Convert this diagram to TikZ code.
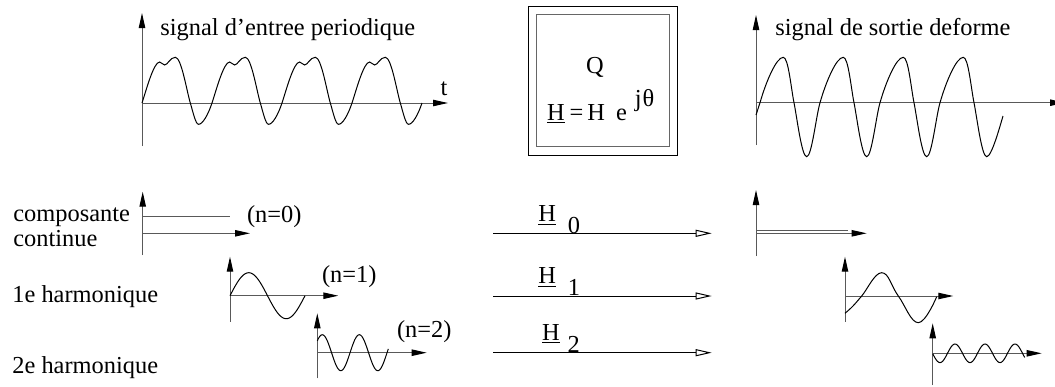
\documentclass[tikz,border=0pt]{standalone}
\usepackage{fontspec}
\setmainfont{Liberation Serif}
\usetikzlibrary{arrows.meta, positioning, calc}

\begin{document}
\begin{tikzpicture}[x=0.5pt, y=-0.5pt, font=\fontsize{12.2}{14}\selectfont]
  % Styles
  \tikzstyle{axis} = [draw, black!65, line width=0.5pt, -{Triangle[length=7.5pt, width=3.2pt, black]}]
  \tikzstyle{signal} = [draw, line width=0.5pt]
  \tikzstyle{transfer} = [draw, line width=0.5pt, -{Triangle[open, length=8pt, width=3.5pt]}]
  \tikzstyle{txt} = [inner sep=0pt, anchor=base west]

  \useasboundingbox (0,0) rectangle (1055,386);

  % Input signal
  \coordinate (in0) at (142,103);
  \draw[axis] ($(in0)+(0,43)$) -- ($(in0)+(0,-90)$);
  \draw[axis] (in0) -- ($(in0)+(306,0)$);
  \node[txt] (titreE) at (160,35) {signal d'entree periodique};
  \node[inner sep=0pt, anchor=base] (t) at (444,95) {t};
  \draw[signal] (in0) \foreach \k in {1,...,4} {
      .. controls +(4,-12) and +(-6,0) .. ++(17.6,-41)
      .. controls +(2,0) and +(-2,0) .. ++(5,3)
      .. controls +(3,0) and +(-5,0) .. ++(10.7,-7.7)
      .. controls +(6,0) and +(-4,-14) .. ++(15,45.7)
      .. controls +(3,10) and +(-3,0) .. ++(8.3,21.3)
      .. controls +(4,0) and +(-4,12) .. ++(13.4,-21.3)
    };

  % Transfer block
  \node[draw, line width=0.5pt, minimum width=74.7pt, minimum height=74.5pt] (bloc) at (603,80.5) {};
  \node[draw=black!60, line width=0.5pt, minimum width=66.3pt, minimum height=66.2pt] (blocint) at (bloc.center) {};
  \node[inner sep=0pt, anchor=base] (Q) at (595,73.3) {Q};
  \node[txt] (H) at (546.7,120) {\underline{H}\kern2.5pt=\kern2pt H\kern5.5pt e\kern4pt\raisebox{6.7pt}{j\kern0.5ptθ}};

  % Output signal
  \coordinate (ax1) at (756,102.7);
  \coordinate (out0) at (760,102.7);
  \draw[axis] ($(ax1)+(0,42.3)$) -- ($(ax1)+(0,-87.7)$);
  \draw[axis] (ax1) -- ($(ax1)+(309,0)$);
  \node[txt] (titreS) at (775,35) {signal de sortie deforme};
  \draw[signal] ($(out0)+(-4,12.3)$) -- (out0) \foreach \k in {1,...,3} {
      .. controls +(6,-21) and +(-7,0) .. ++(23.3,-45.4)
      .. controls +(5,0) and +(-3,-15) .. ++(10.7,45.4)
      .. controls +(3,15) and +(-5,0) .. ++(12.7,54)
      .. controls +(5,0) and +(-4,14) .. ++(13.3,-54)
    }
      .. controls +(6,-21) and +(-7,0) .. ++(23.3,-45.4)
      .. controls +(5,0) and +(-3,-15) .. ++(10.7,45.4)
      .. controls +(3,15) and +(-5,0) .. ++(12.7,54)
      .. controls +(5,0) and +(-3,10) .. ++(16.3,-40.7);

  % Harmonics at the input
  \node[txt] (comp) at (13,221.7) {composante};
  \node[txt] (cont) at (13,246.7) {continue};
  \coordinate (e0) at (142.7,233.3);
  \draw[axis] ($(e0)+(0,21.7)$) -- ($(e0)+(0,-41.6)$);
  \draw[axis] (e0) -- ($(e0)+(107.3,0)$);
  \draw[axis, -] ($(e0)+(0,-16.6)$) -- ($(e0)+(87.3,-16.6)$);
  \node[txt] (n0) at (246.7,222.3) {(n=0)};

  \node[txt] (harm1) at (12,302) {1e harmonique};
  \coordinate (e1) at (230,295.7);
  \draw[axis] ($(e1)+(0,26)$) -- ($(e1)+(0,-39)$);
  \draw[axis] (e1) -- ($(e1)+(108.3,0)$);
  \draw[signal, shift={(e1)}] plot[domain=0:75, samples=60] (\x, {-23*sin(4.8*\x)});
  \node[txt] (n1) at (321.7,282.5) {(n=1)};

  \node[txt] (harm2) at (12,373) {2e harmonique};
  \coordinate (e2) at (317.3,352.7);
  \draw[axis] ($(e2)+(0,25.6)$) -- ($(e2)+(0,-39.4)$);
  \draw[axis] (e2) -- ($(e2)+(109.4,0)$);
  \draw[signal, shift={(e2)}] plot[domain=0:71, samples=60] (\x, {-18*cos(9.73*(\x-5))});
  \node[txt] (n2) at (396.7,337.5) {(n=2)};

  % Transfer of each harmonic
  \foreach \i/\y in {0/233.3, 1/296, 2/352.7} {
    \coordinate (a\i) at (493.3,\y);
    \coordinate (b\i) at (711.7,\y);
    \draw[transfer] (a\i) -- (b\i);
  }
  \node[txt] (H0) at (538,221.7) {\underline{H}\kern5.9pt\raisebox{-5.8pt}{0}};
  \node[txt] (H1) at (538,283.3) {\underline{H}\kern5.9pt\raisebox{-6.3pt}{1}};
  \node[txt] (H2) at (541.7,340) {\underline{H}\kern4pt\raisebox{-6.3pt}{2}};

  % Harmonics at the output
  \coordinate (s0) at (756,233.3);
  \draw[axis] ($(s0)+(0,22.7)$) -- ($(s0)+(0,-43.3)$);
  \draw[axis] (s0) -- ($(s0)+(110.7,0)$);
  \draw[axis, -] ($(s0)+(0,-3.3)$) -- ($(s0)+(92.3,-3.3)$);

  \coordinate (s1) at (845,296);
  \draw[axis] ($(s1)+(0,25.7)$) -- ($(s1)+(0,-39.3)$);
  \draw[axis] (s1) -- ($(s1)+(108.3,0)$);
  \draw[signal, shift={(s1)}] plot[smooth, tension=0.7] coordinates {(0,17.3) (8,10) (16.7,0) (36.7,-23.3) (53.3,0) (73.3,26.7) (91.7,0.7)};

  \coordinate (s2) at (932.7,353.3);
  \draw[axis] ($(s2)+(0,31.7)$) -- ($(s2)+(0,-30)$);
  \draw[axis] (s2) -- ($(s2)+(109,0)$);
  \draw[signal, shift={(s2)}] plot[domain=0:92, samples=80] (\x, {9.3*sin(12*(\x+0.2))});
\end{tikzpicture}
\end{document}
